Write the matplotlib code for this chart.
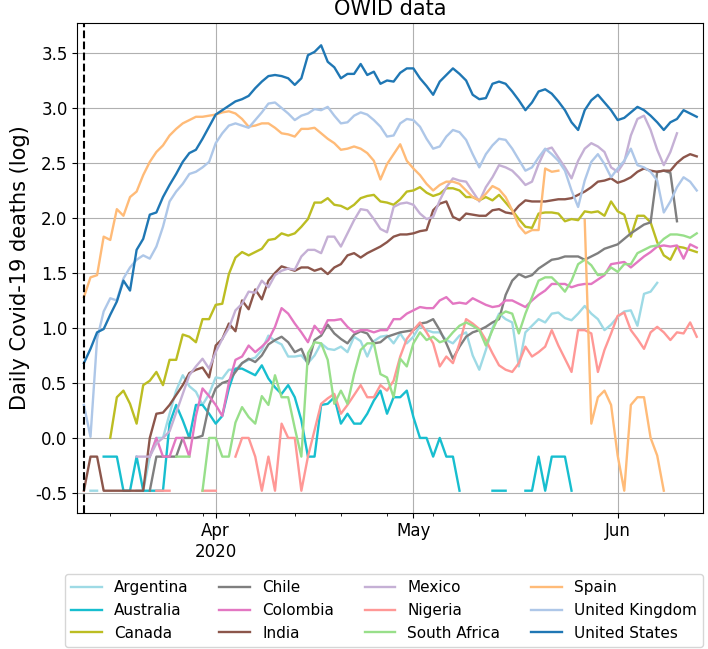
import numpy as np
import pandas as pd
import matplotlib
matplotlib.use("Agg")
import matplotlib.pyplot as plt
import matplotlib.dates as mdates

nan = np.nan
dates = pd.date_range("2020-03-12", periods=94, freq="D")

countries = ["Argentina", "Australia", "Canada", "Chile", "Colombia", "India",
             "Mexico", "Nigeria", "South Africa", "Spain", "United Kingdom", "United States"]
colors = ["#9edae5", "#17becf", "#bcbd22", "#7f7f7f", "#e377c2", "#8c564b",
          "#c5b0d5", "#ff9896", "#98df8a", "#ffbb78", "#aec7e8", "#1f77b4"]

# log10 of daily deaths (3-day mean), Mar 12 .. Jun 13
argentina = [nan, -0.48, -0.48, nan, nan, nan, nan, nan, -0.48, -0.48,
             -0.17, 0.0, 0.0, 0.22, 0.43, 0.57, 0.47, 0.42, 0.30, 0.40,
             0.55, 0.54, 0.62, 0.62, 0.68, 0.71, 0.73, 0.80, 0.93, 0.88,
             0.85, 0.74, 0.74, 0.75, 0.68, 0.75, 0.86, 0.81, 0.80, 0.83,
             0.78, 0.92, 0.88, 0.74, 0.88, 0.92, 0.93, 0.86, 0.95, 0.86,
             0.92, 1.02, 0.98, 0.96, 0.96, 0.89, 0.86, 0.93, 0.96, 0.75,
             0.62, 0.80, 1.00, 1.13, 1.08, 1.05, 0.65, 0.96, 1.02, 1.08,
             1.05, 1.13, 1.14, 1.09, 1.07, 1.13, 1.20, 1.13, 1.08, 0.98,
             1.03, 1.10, 1.15, 1.16, 1.02, 1.31, 1.33, 1.41, nan, nan,
             nan, nan, nan, nan]
australia = [nan, nan, nan, -0.17, -0.17, -0.17, -0.48, -0.48, -0.17, -0.48,
             -0.48, -0.48, -0.48, 0.13, 0.30, 0.16, 0.0, 0.30, 0.30, 0.22,
             0.13, 0.20, 0.45, 0.63, 0.63, 0.60, 0.57, 0.66, 0.54, 0.46,
             0.40, 0.48, 0.37, 0.16, -0.17, -0.17, 0.30, 0.31, 0.37, 0.13,
             0.22, 0.13, 0.13, 0.22, 0.34, 0.43, 0.22, 0.37, 0.37, 0.43,
             0.19, 0.0, 0.0, -0.17, 0.0, -0.17, -0.17, -0.48, nan, nan,
             nan, nan, -0.48, -0.48, -0.48, nan, nan, -0.48, -0.48, -0.17,
             -0.48, -0.17, -0.17, -0.17, -0.48, nan, nan, nan, nan, nan,
             nan, nan, nan, nan, nan, nan, nan, nan, nan, nan,
             nan, nan, nan, nan]
canada = [nan, nan, nan, nan, 0.0, 0.37, 0.43, 0.31, 0.13, 0.48,
          0.52, 0.60, 0.48, 0.71, 0.71, 0.94, 0.92, 0.87, 1.08, 1.08,
          1.21, 1.22, 1.49, 1.64, 1.69, 1.66, 1.69, 1.72, 1.80, 1.81,
          1.86, 1.84, 1.86, 1.92, 1.99, 2.14, 2.14, 2.18, 2.12, 2.11,
          2.08, 2.12, 2.18, 2.20, 2.21, 2.15, 2.14, 2.12, 2.17, 2.24,
          2.25, 2.28, 2.23, 2.20, 2.22, 2.27, 2.27, 2.25, 2.19, 2.19,
          2.16, 2.19, 2.16, 2.21, 2.14, 2.07, 1.99, 1.92, 1.91, 2.04,
          2.05, 2.05, 2.04, 1.97, 1.99, 1.98, 2.06, 2.05, 2.06, 2.02,
          2.15, 2.06, 2.03, 1.83, 2.02, 2.02, 1.96, 1.78, 1.66, 1.62,
          1.74, 1.73, 1.71, 1.69]
chile = [nan, nan, nan, nan, nan, nan, nan, nan, nan, nan,
         -0.48, -0.17, -0.17, -0.17, -0.17, 0.0, 0.0, 0.0, 0.02, 0.30,
         0.45, 0.50, 0.52, 0.60, 0.68, 0.72, 0.69, 0.75, 0.85, 0.89,
         0.92, 0.87, 0.78, 0.81, 0.67, 0.89, 0.93, 1.03, 0.95, 0.90,
         0.86, 0.94, 0.97, 0.95, 0.86, 0.87, 0.92, 0.94, 0.96, 0.97,
         0.98, 1.04, 1.05, 1.08, 0.98, 0.86, 0.72, 0.83, 0.92, 0.96,
         0.98, 1.01, 1.05, 1.08, 1.30, 1.43, 1.49, 1.46, 1.48, 1.54,
         1.58, 1.62, 1.63, 1.65, 1.65, 1.65, 1.62, 1.65, 1.68, 1.72,
         1.74, 1.76, 1.81, 1.86, 1.90, 1.94, 1.96, 2.42, 2.43, 2.41,
         1.97, nan, nan, nan]
colombia = [nan, nan, nan, nan, nan, nan, nan, nan, nan, nan,
            -0.17, 0.0, -0.17, -0.17, 0.0, 0.0, -0.17, 0.20, 0.45, 0.38,
            0.30, 0.20, 0.50, 0.71, 0.74, 0.84, 0.78, 0.83, 0.89, 1.01,
            1.18, 1.13, 1.04, 0.96, 0.87, 1.02, 0.95, 1.07, 1.07, 1.08,
            1.01, 0.96, 0.98, 0.98, 0.96, 0.98, 0.98, 1.08, 1.08, 1.13,
            1.16, 1.19, 1.18, 1.18, 1.25, 1.28, 1.22, 1.23, 1.22, 1.27,
            1.24, 1.21, 1.19, 1.20, 1.25, 1.25, 1.22, 1.19, 1.25, 1.30,
            1.34, 1.40, 1.40, 1.40, 1.37, 1.39, 1.40, 1.40, 1.44, 1.48,
            1.58, 1.59, 1.60, 1.55, 1.60, 1.65, 1.69, 1.74, 1.75, 1.74,
            1.75, 1.63, 1.76, 1.73]
india = [-0.48, -0.17, -0.17, -0.48, -0.48, -0.48, -0.48, -0.48, -0.48, -0.48,
         0.0, 0.22, 0.23, 0.30, 0.39, 0.48, 0.59, 0.62, 0.64, 0.55,
         0.84, 0.90, 1.04, 0.97, 1.25, 1.17, 1.35, 1.26, 1.43, 1.50,
         1.56, 1.54, 1.52, 1.55, 1.55, 1.52, 1.54, 1.49, 1.55, 1.58,
         1.66, 1.68, 1.64, 1.68, 1.71, 1.74, 1.78, 1.83, 1.85, 1.85,
         1.86, 1.88, 1.89, 2.07, 2.13, 2.15, 2.01, 1.98, 2.04, 2.03,
         2.02, 2.02, 2.07, 2.08, 2.05, 2.04, 2.11, 2.16, 2.15, 2.15,
         2.15, 2.16, 2.17, 2.17, 2.18, 2.21, 2.24, 2.28, 2.33, 2.34,
         2.36, 2.32, 2.34, 2.37, 2.42, 2.45, 2.43, 2.42, 2.43, 2.43,
         2.50, 2.55, 2.58, 2.56]
mexico = [nan, nan, nan, nan, nan, nan, nan, nan, -0.17, -0.17,
          -0.17, -0.05, 0.0, 0.06, 0.23, 0.40, 0.57, 0.65, 0.72, 0.63,
          0.78, 0.90, 1.00, 1.16, 1.22, 1.33, 1.32, 1.43, 1.37, 1.48,
          1.52, 1.54, 1.53, 1.65, 1.71, 1.71, 1.68, 1.83, 1.83, 1.74,
          1.86, 1.98, 2.08, 2.07, 1.99, 1.90, 1.87, 2.10, 2.13, 2.14,
          2.12, 2.04, 1.99, 2.01, 2.16, 2.28, 2.36, 2.34, 2.33, 2.24,
          2.15, 2.28, 2.37, 2.48, 2.46, 2.43, 2.37, 2.30, 2.33, 2.49,
          2.62, 2.64, 2.55, 2.46, 2.36, 2.52, 2.63, 2.68, 2.65, 2.60,
          2.46, 2.42, 2.51, 2.75, 2.90, 2.93, 2.80, 2.62, 2.48, 2.60,
          2.77, nan, nan, nan]
nigeria = [nan, nan, nan, nan, nan, nan, nan, nan, nan, nan,
           nan, -0.48, -0.48, -0.48, nan, nan, nan, nan, -0.48, -0.48,
           -0.48, nan, nan, -0.17, 0.0, 0.0, -0.17, -0.48, -0.17, -0.48,
           0.13, 0.0, 0.0, -0.48, -0.17, 0.07, 0.31, 0.36, 0.40, 0.22,
           0.30, 0.39, 0.48, 0.37, 0.37, 0.48, 0.43, 0.52, 0.74, 0.90,
           0.98, 1.05, 0.96, 0.86, 0.65, 0.74, 0.68, 0.86, 1.08, 1.04,
           0.99, 0.89, 0.77, 0.66, 0.62, 0.60, 0.68, 0.83, 0.74, 0.78,
           0.83, 0.98, 0.84, 0.72, 0.60, 0.98, 0.98, 0.95, 0.60, 0.80,
           0.95, 1.11, 1.14, 0.98, 0.90, 0.81, 0.96, 1.01, 0.96, 0.89,
           0.96, 0.95, 1.05, 0.92]
south_africa = [nan, nan, nan, nan, nan, nan, nan, nan, nan, nan,
                nan, nan, nan, nan, -0.17, -0.17, -0.17, nan, -0.48, 0.0,
                0.0, -0.17, -0.17, 0.14, 0.28, 0.19, 0.13, 0.38, 0.30, 0.57,
                0.37, 0.37, 0.09, -0.17, 0.77, 0.87, 0.86, 0.71, 0.31, 0.43,
                0.31, 0.58, 0.80, 0.86, 0.86, 0.58, 0.55, 0.37, 0.72, 0.65,
                0.86, 0.96, 0.89, 0.92, 0.87, 0.89, 0.96, 1.02, 1.05, 1.02,
                0.98, 0.84, 0.98, 1.11, 1.15, 1.13, 0.95, 1.13, 1.28, 1.43,
                1.46, 1.46, 1.40, 1.33, 1.43, 1.58, 1.62, 1.57, 1.48, 1.49,
                1.55, 1.51, 1.58, 1.58, 1.68, 1.71, 1.74, 1.75, 1.81, 1.85,
                1.85, 1.84, 1.82, 1.86]
spain = [1.28, 1.46, 1.48, 1.83, 1.80, 2.08, 2.02, 2.19, 2.24, 2.39,
         2.51, 2.60, 2.66, 2.75, 2.81, 2.86, 2.89, 2.92, 2.92, 2.93,
         2.94, 2.96, 2.97, 2.95, 2.90, 2.83, 2.84, 2.86, 2.86, 2.82,
         2.77, 2.76, 2.74, 2.81, 2.81, 2.82, 2.77, 2.72, 2.68, 2.62,
         2.63, 2.65, 2.63, 2.59, 2.52, 2.35, 2.49, 2.58, 2.67, 2.52,
         2.45, 2.39, 2.31, 2.25, 2.30, 2.33, 2.33, 2.31, 2.25, 2.19,
         2.16, 2.22, 2.29, 2.26, 2.19, 2.07, 1.93, 1.86, 1.89, 1.89,
         2.45, 2.42, 2.43, nan, nan, nan, 1.98, 0.13, 0.37, 0.43,
         0.30, -0.16, -0.48, 0.30, 0.37, 0.37, 0.0, -0.16, -0.48, nan,
         nan, nan, nan, nan]
united_kingdom = [0.30, 0.01, 0.90, 1.15, 1.27, 1.25, 1.45, 1.55, 1.62, 1.66,
                  1.63, 1.74, 1.92, 2.15, 2.24, 2.31, 2.40, 2.42, 2.46, 2.51,
                  2.68, 2.77, 2.84, 2.86, 2.84, 2.82, 2.89, 2.96, 3.04, 3.05,
                  3.00, 2.95, 2.89, 2.93, 2.95, 2.99, 2.98, 3.01, 2.93, 2.86,
                  2.87, 2.93, 2.96, 2.94, 2.89, 2.83, 2.74, 2.75, 2.86, 2.90,
                  2.89, 2.83, 2.72, 2.63, 2.65, 2.74, 2.80, 2.78, 2.71, 2.58,
                  2.46, 2.58, 2.66, 2.72, 2.71, 2.63, 2.53, 2.43, 2.46, 2.55,
                  2.63, 2.58, 2.52, 2.43, 2.25, 2.10, 2.34, 2.51, 2.58, 2.49,
                  2.37, 2.45, 2.52, 2.63, 2.48, 2.46, 2.42, 2.34, 2.05, 2.15,
                  2.28, 2.37, 2.33, 2.25]
united_states = [0.68, 0.81, 0.96, 0.99, 1.12, 1.24, 1.43, 1.34, 1.71, 1.81,
                 2.03, 2.05, 2.19, 2.30, 2.40, 2.51, 2.59, 2.62, 2.72, 2.83,
                 2.94, 2.98, 3.02, 3.06, 3.08, 3.11, 3.18, 3.24, 3.29, 3.30,
                 3.29, 3.27, 3.21, 3.27, 3.48, 3.51, 3.57, 3.42, 3.37, 3.27,
                 3.31, 3.31, 3.40, 3.30, 3.33, 3.22, 3.25, 3.24, 3.32, 3.36,
                 3.36, 3.27, 3.20, 3.12, 3.24, 3.30, 3.36, 3.31, 3.25, 3.12,
                 3.08, 3.09, 3.22, 3.24, 3.22, 3.15, 3.07, 2.98, 3.05, 3.15,
                 3.17, 3.13, 3.06, 2.98, 2.87, 2.80, 2.98, 3.07, 3.12, 3.05,
                 2.98, 2.89, 2.91, 2.96, 3.01, 2.98, 2.93, 2.87, 2.80, 2.87,
                 2.90, 2.98, 2.95, 2.92]

series = [argentina, australia, canada, chile, colombia, india, mexico,
          nigeria, south_africa, spain, united_kingdom, united_states]

fig = plt.figure(figsize=(7.08, 6.49), dpi=100)
ax = fig.add_axes([0.1092, 0.2100, 0.8842, 0.7541])

for name, vals, c in zip(countries, series, colors):
    ax.plot(dates, vals, color=c, lw=1.7, label=name)

ax.axvline(pd.Timestamp("2020-03-12"), color="black", ls="--", lw=1.5)

ax.set_xlim(pd.Timestamp("2020-03-11"), pd.Timestamp("2020-06-14"))
ax.set_ylim(-0.68, 3.77)
ax.set_yticks(np.arange(-0.5, 3.51, 0.5))
ax.yaxis.set_major_formatter(matplotlib.ticker.FormatStrFormatter("%.1f"))

ax.set_xticks([pd.Timestamp("2020-04-01"), pd.Timestamp("2020-05-01"), pd.Timestamp("2020-06-01")])
ax.set_xticklabels(["Apr\n2020", "May", "Jun"])
ax.xaxis.set_minor_locator(mdates.WeekdayLocator(byweekday=mdates.MO))
ax.tick_params(labelsize=12)
ax.grid(True)

ax.set_title("OWID data", fontsize=15)
ax.set_ylabel("Daily Covid-19 deaths (log)", fontsize=15)

ax.legend(loc="upper center", bbox_to_anchor=(0.49, -0.11), ncol=4, fontsize=11)

fig.savefig("out.png", dpi=100)
